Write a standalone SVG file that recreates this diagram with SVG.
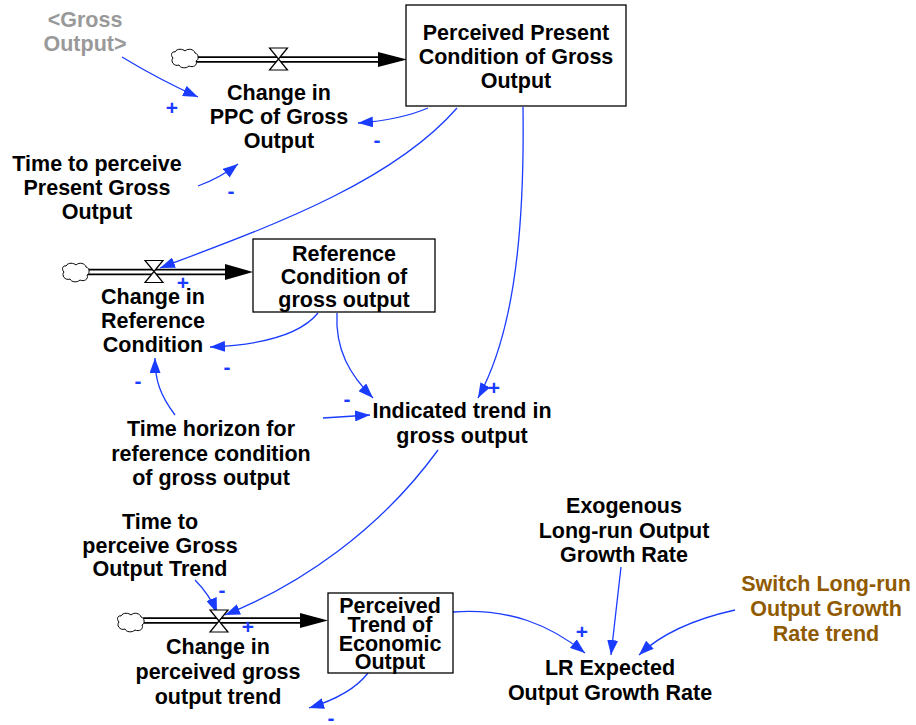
<svg xmlns="http://www.w3.org/2000/svg" width="916" height="725" viewBox="0 0 916 725">
<style>
.t{font-family:"Liberation Sans",Arial,Helvetica,sans-serif;font-weight:bold;font-size:21.5px;text-anchor:middle;fill:#000}
.gr{fill:#999999}
.br{fill:#8f5a00}
.l{fill:none;stroke:#1a3cff;stroke-width:1.3}
.s{font-family:"Liberation Sans",Arial,sans-serif;font-weight:bold;font-size:21px;text-anchor:middle;fill:#1a3cff}
.box{fill:#fff;stroke:#000;stroke-width:1.3}
.po{stroke:#000;stroke-width:6.5;fill:none}
.pi{stroke:#fff;stroke-width:3.2;fill:none}
.ah{fill:#000}
.valve{fill:#fff;stroke:#000;stroke-width:1.2}
.cloud{fill:#fff;stroke:#000;stroke-width:1}
</style>
<defs>
<marker id="a" markerUnits="userSpaceOnUse" markerWidth="15" markerHeight="11" refX="15" refY="5.5" orient="auto">
<path d="M0,0 L15,5.5 L0,11 Z" fill="#1a3cff"/>
</marker>
<path id="cl" class="cloud" d="M-10,-6 C-8,-10 -2,-9 0,-7 C3,-10 9,-9 10,-5 C14,-4 14,2 11,3 C13,7 8,10 4,8 C1,11 -5,10 -6,7 C-11,9 -15,3 -12,0 C-15,-3 -13,-7 -10,-6 Z"/>
</defs>
<rect width="916" height="725" fill="#fff"/>

<g id="connectors">
<!-- flow pipes -->
<line class="po" x1="196" y1="59.5" x2="380" y2="59.5"/><line class="pi" x1="196" y1="59.5" x2="381" y2="59.5"/>
<polygon class="ah" points="378,52 407,59.5 378,67"/>
<line class="po" x1="88" y1="272" x2="227" y2="272"/><line class="pi" x1="88" y1="272" x2="228" y2="272"/>
<polygon class="ah" points="225,264 253,272 225,280"/>
<line class="po" x1="143" y1="620.5" x2="302" y2="620.5"/><line class="pi" x1="143" y1="620.5" x2="303" y2="620.5"/>
<polygon class="ah" points="300,613 328,620.5 300,628"/>
<!-- links -->
<path class="l" marker-end="url(#a)" d="M122,57 Q160,80 198,97"/>
<path class="l" marker-end="url(#a)" d="M198,186 Q220,178 238,164"/>
<path class="l" marker-end="url(#a)" d="M428,108 Q400,120 358,123"/>
<path class="l" marker-end="url(#a)" d="M457,108 C390,185 260,230 160,268"/>
<path class="l" marker-end="url(#a)" d="M523,107 C525,250 510,340 478,398"/>
<path class="l" marker-end="url(#a)" d="M318,313 C300,335 260,345 210,347"/>
<path class="l" marker-end="url(#a)" d="M337,313 C335,350 350,375 373,398"/>
<path class="l" marker-end="url(#a)" d="M175,415 C160,395 155,380 155,358"/>
<path class="l" marker-end="url(#a)" d="M323,418 L370,415"/>
<path class="l" marker-end="url(#a)" d="M438,450 C380,530 300,585 225,615"/>
<path class="l" marker-end="url(#a)" d="M195,580 Q210,595 217,613"/>
<path class="l" marker-end="url(#a)" d="M368,673 C355,690 335,700 309,708"/>
<path class="l" marker-end="url(#a)" d="M453,612 C510,608 550,625 585,653"/>
<path class="l" marker-end="url(#a)" d="M621,567 L611,655"/>
<path class="l" marker-end="url(#a)" d="M735,610 C690,620 660,635 639,655"/>
<!-- polarities -->
<text class="s" x="172" y="115">+</text>
<text class="s" x="231" y="198">-</text>
<text class="s" x="377" y="147">-</text>
<text class="s" x="183" y="290">+</text>
<text class="s" x="494" y="395">+</text>
<text class="s" x="227" y="374">-</text>
<text class="s" x="138" y="388">-</text>
<text class="s" x="347" y="406">-</text>
<text class="s" x="248" y="634">+</text>
<text class="s" x="222" y="597">-</text>
<text class="s" x="331" y="725">-</text>
<text class="s" x="582" y="639">+</text>
</g>

<g id="cloud1"><use href="#cl" x="185" y="58"/></g>
<g id="cloud2"><use href="#cl" x="76" y="272"/></g>
<g id="cloud3"><use href="#cl" x="131" y="622"/></g>

<g id="gross_output_shadow">
<text class="t gr" x="85" y="27">&lt;Gross</text>
<text class="t gr" x="85" y="51">Output&gt;</text>
</g>

<g id="stock_ppc">
<rect class="box" x="406" y="5" width="220" height="101"/>
<text class="t" x="516" y="40">Perceived Present</text>
<text class="t" x="516" y="64">Condition of Gross</text>
<text class="t" x="516" y="88">Output</text>
</g>

<g id="flow_change_ppc">
<path class="valve" d="M269.5,48 L287.5,48 L269.5,70 L287.5,70 Z"/>
<text class="t" x="279" y="100">Change in</text>
<text class="t" x="279" y="124">PPC of Gross</text>
<text class="t" x="279" y="148">Output</text>
</g>

<g id="time_perceive_present">
<text class="t" x="97" y="171">Time to perceive</text>
<text class="t" x="97" y="195">Present Gross</text>
<text class="t" x="97" y="219">Output</text>
</g>

<g id="stock_reference">
<rect class="box" x="253" y="239" width="182" height="73"/>
<text class="t" x="344" y="261">Reference</text>
<text class="t" x="344" y="284">Condition of</text>
<text class="t" x="344" y="307">gross output</text>
</g>

<g id="flow_change_reference">
<path class="valve" d="M145,260.5 L163,260.5 L145,282.5 L163,282.5 Z"/>
<text class="t" x="153" y="304">Change in</text>
<text class="t" x="153" y="328">Reference</text>
<text class="t" x="153" y="352">Condition</text>
</g>

<g id="time_horizon">
<text class="t" x="211" y="436">Time horizon for</text>
<text class="t" x="211" y="461">reference condition</text>
<text class="t" x="211" y="485">of gross output</text>
</g>

<g id="indicated_trend">
<text class="t" x="462" y="418">Indicated trend in</text>
<text class="t" x="462" y="443">gross output</text>
</g>

<g id="time_perceive_trend">
<text class="t" x="160" y="529">Time to</text>
<text class="t" x="160" y="553">perceive Gross</text>
<text class="t" x="160" y="576">Output Trend</text>
</g>

<g id="flow_change_trend">
<path class="valve" d="M210,610 L228,610 L210,632 L228,632 Z"/>
<text class="t" x="218" y="654">Change in</text>
<text class="t" x="218" y="679">perceived gross</text>
<text class="t" x="218" y="704">output trend</text>
</g>

<g id="stock_trend">
<rect class="box" x="328" y="593" width="125" height="80"/>
<text class="t" x="390" y="613">Perceived</text>
<text class="t" x="390" y="632">Trend of</text>
<text class="t" x="390" y="651">Economic</text>
<text class="t" x="390" y="669">Output</text>
</g>

<g id="exogenous">
<text class="t" x="624" y="513">Exogenous</text>
<text class="t" x="624" y="538">Long-run Output</text>
<text class="t" x="624" y="562">Growth Rate</text>
</g>

<g id="switch">
<text class="t br" x="826" y="591">Switch Long-run</text>
<text class="t br" x="826" y="616">Output Growth</text>
<text class="t br" x="826" y="641">Rate trend</text>
</g>

<g id="lr_expected">
<text class="t" x="610" y="675">LR Expected</text>
<text class="t" x="610" y="700">Output Growth Rate</text>
</g>
</svg>
